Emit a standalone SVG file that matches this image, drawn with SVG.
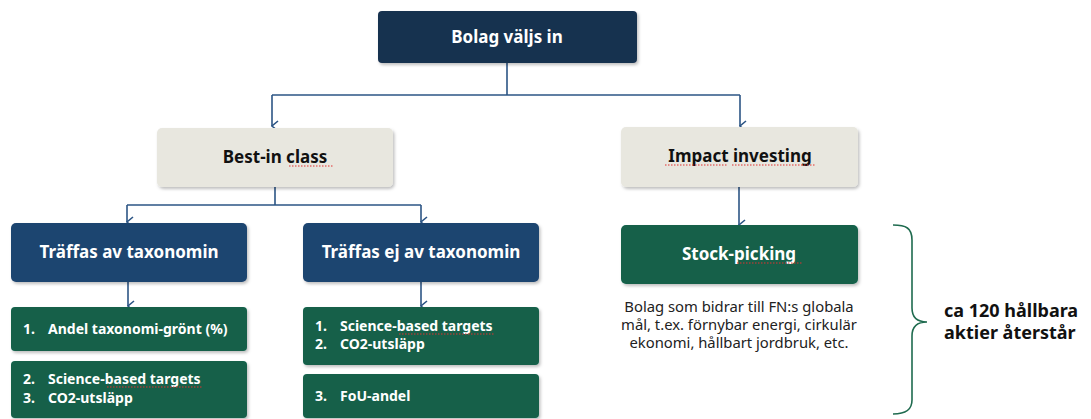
<svg xmlns="http://www.w3.org/2000/svg" width="1091" height="419" viewBox="0 0 1091 419">
<defs>
<filter id="sh" x="-10%" y="-10%" width="125%" height="135%">
<feDropShadow dx="1.5" dy="2" stdDeviation="1.5" flood-color="#000" flood-opacity="0.25"/>
</filter>
<marker id="ah" viewBox="0 0 12 10" refX="6" refY="9" markerWidth="12" markerHeight="10" markerUnits="userSpaceOnUse" orient="auto-start-reverse">
<path d="M1,3 L6,9 L11,3" fill="none" stroke="#2c5585" stroke-width="1.6"/>
</marker>
</defs>
<style>
.t{font-family:"Noto Sans","Open Sans",sans-serif;}
.h{font-weight:700;font-size:17px;text-anchor:middle;}
.w{fill:#ffffff;}
.k{fill:#111111;}
.l{font-weight:700;font-size:14px;fill:#ffffff;}
.d{font-size:14.8px;fill:#222222;text-anchor:middle;}
.c{stroke:#2c5585;stroke-width:1.6;fill:none;}
.sq{stroke:#e03030;stroke-width:1;fill:none;stroke-dasharray:1.5 1.5;}
</style>
<rect width="1091" height="419" fill="#ffffff"/>
<g id="connectors">
<path class="c" d="M507,63 V95 M272,95 H740"/>
<path class="c" d="M272,95 V126" marker-end="url(#ah)"/>
<path class="c" d="M740,95 V126" marker-end="url(#ah)"/>
<path class="c" d="M275,187 V205 M127,205 H421"/>
<path class="c" d="M127,205 V222" marker-end="url(#ah)"/>
<path class="c" d="M421,205 V222" marker-end="url(#ah)"/>
<path class="c" d="M739,187 V225" marker-end="url(#ah)"/>
<path class="c" d="M128,282 V306" marker-end="url(#ah)"/>
<path class="c" d="M421,282 V306" marker-end="url(#ah)"/>
</g>
<g id="bolag">
<rect x="378" y="11" width="259" height="52" rx="4" fill="#17324f" filter="url(#sh)"/>
<text class="t h w" x="507" y="43" font-size="18.5">Bolag väljs in</text>
</g>
<g id="bestinclass">
<rect x="157" y="128" width="236" height="59" rx="5" fill="#e8e7df" filter="url(#sh)"/>
<text class="t h k" x="275" y="163" font-size="18.5">Best-in class</text>
<path class="sq" d="M289,166 H334"/>
</g>
<g id="impact">
<rect x="621" y="127" width="237" height="60" rx="5" fill="#e8e7df" filter="url(#sh)"/>
<text class="t h k" x="740" y="162" font-size="17.5">Impact investing</text>
<path class="sq" d="M665,165 H727 M732,165 H816"/>
</g>
<g id="traffas">
<rect x="11" y="223" width="236" height="59" rx="5" fill="#1f4570" filter="url(#sh)"/>
<text class="t h w" x="129" y="258">Träffas av taxonomin</text>
</g>
<g id="traffasej">
<rect x="303" y="223" width="236" height="59" rx="5" fill="#1f4570" filter="url(#sh)"/>
<text class="t h w" x="421" y="258">Träffas ej av taxonomin</text>
</g>
<g id="stockpicking">
<rect x="621" y="225" width="237" height="59" rx="5" fill="#12614a" filter="url(#sh)"/>
<text class="t h w" x="739" y="260" font-size="18">Stock-picking</text>
<path class="sq" d="M737,263 H802"/>
<text class="t d" x="739" y="312">Bolag som bidrar till FN:s globala</text>
<text class="t d" x="739" y="330">mål, t.ex. förnybar energi, cirkulär</text>
<text class="t d" x="739" y="348">ekonomi, hållbart jordbruk, etc.</text>
</g>
<g id="lista1">
<rect x="11" y="307" width="236" height="44" rx="4" fill="#12614a" filter="url(#sh)"/>
<text class="t l" x="23" y="334">1.</text>
<text class="t l" x="48" y="334">Andel taxonomi-grönt (%)</text>
</g>
<g id="lista2">
<rect x="11" y="361" width="236" height="57" rx="4" fill="#12614a" filter="url(#sh)"/>
<text class="t l" x="23" y="384">2.</text>
<text class="t l" x="48" y="384">Science-based targets</text>
<text class="t l" x="23" y="403">3.</text>
<text class="t l" x="48" y="403">CO2-utsläpp</text>
<path class="sq" d="M107,387 H202"/>
</g>
<g id="lista3">
<rect x="303" y="307" width="236" height="58" rx="4" fill="#12614a" filter="url(#sh)"/>
<text class="t l" x="315" y="331">1.</text>
<text class="t l" x="340" y="331">Science-based targets</text>
<text class="t l" x="315" y="349">2.</text>
<text class="t l" x="340" y="349">CO2-utsläpp</text>
<path class="sq" d="M399,334 H494"/>
</g>
<g id="lista4">
<rect x="303" y="374" width="236" height="44" rx="4" fill="#12614a" filter="url(#sh)"/>
<text class="t l" x="315" y="401">3.</text>
<text class="t l" x="340" y="401">FoU-andel</text>
</g>
<g id="brace">
<path d="M893,225 C906,225 912,228 912,240 L912,308 C912,318 918,322 927,322 C918,322 912,326 912,336 L912,400 C912,410 906,414 893,414" fill="none" stroke="#1f6b4f" stroke-width="1.6"/>
<text class="t" x="944" y="317" font-weight="700" font-size="18" fill="#111111">ca 120 hållbara</text>
<text class="t" x="944" y="339" font-weight="700" font-size="18" fill="#111111">aktier återstår</text>
</g>
</svg>
